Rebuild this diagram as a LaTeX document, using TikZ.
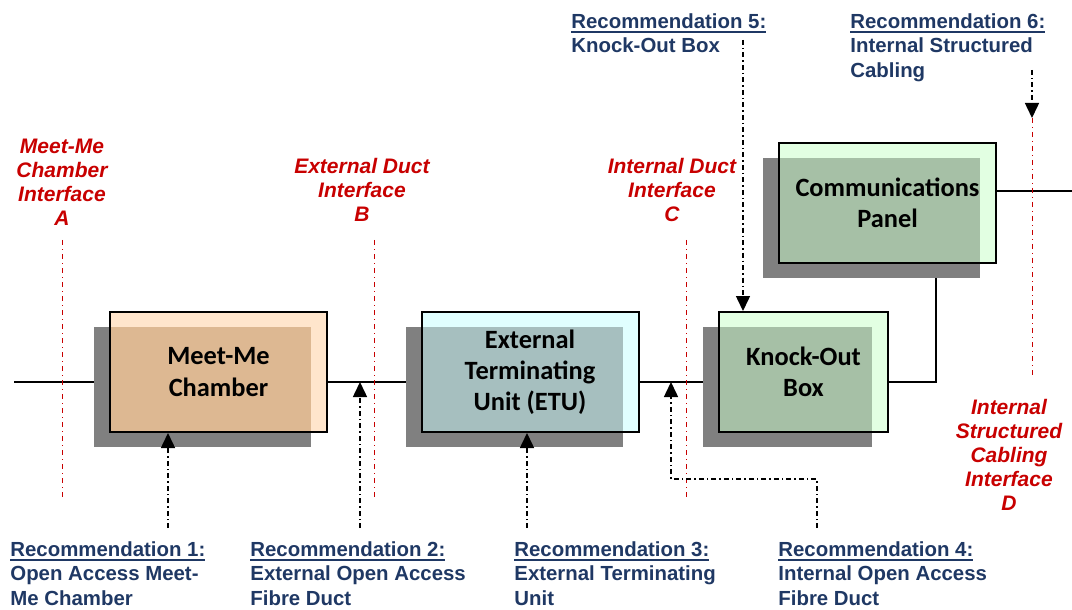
\documentclass[tikz,border=0pt]{standalone}
\usepackage{fontspec}
\setmainfont{Liberation Sans}
\newfontfamily\unitfont{Carlito}
\usetikzlibrary{arrows.meta,shadows,backgrounds}

\definecolor{recblue}{RGB}{31,56,100}
\definecolor{ifred}{RGB}{200,0,0}
\definecolor{shadowgray}{RGB}{128,128,128}
\definecolor{peach}{RGB}{255,229,204}
\definecolor{peachdark}{RGB}{221,184,146}
\definecolor{aqua}{RGB}{224,255,255}
\definecolor{aquadark}{RGB}{166,191,191}
\definecolor{mint}{RGB}{226,255,226}
\definecolor{mintdark}{RGB}{166,192,166}

\newcommand\headul[1]{\setbox0\hbox{#1}\rlap{\rule[-2.2pt]{\wd0}{0.9pt}}\box0}

\tikzset{
  unit/.style 2 args={draw, line width=1pt, fill=#1, minimum width=108.5pt, minimum height=60pt,
    align=center, inner sep=2pt, font=\unitfont\bfseries\fontsize{13.2}{15.6}\selectfont,
    general shadow={fill=shadowgray, shadow xshift=-8pt, shadow yshift=-7.5pt},
    path picture={\fill[#2] (path picture bounding box.south west) rectangle
      ([xshift=-8pt,yshift=-7.5pt]path picture bounding box.north east);}},
  wire/.style={line width=1pt},
  rec/.style={text=recblue, font=\bfseries\fontsize{10.2}{12.3}\selectfont, align=left,
    inner sep=0pt, anchor=north west},
  iface/.style={text=ifred, font=\bfseries\itshape\fontsize{10.5}{12}\selectfont,
    align=center, inner sep=0pt},
  ifline/.style={ifred, line width=0.5pt, dash pattern=on 2.5pt off 2pt on 0.5pt off 2pt},
  recarrow/.style={line width=0.75pt, dash pattern=on 2.5pt off 1.5pt on 0.75pt off 1.5pt,
    -{Triangle[length=7.5pt,width=7pt]}}
}

\begin{document}
\begin{tikzpicture}[x=0.5pt,y=-0.5pt]
  \useasboundingbox (0,0) rectangle (1072,610);

  % the chain of units
  \node[unit={peach}{peachdark}] (mm) at (218.5,372) {Meet-Me\\Chamber};
  \node[unit={aqua}{aquadark}] (etu) at (530,372) {External\\Terminating\\Unit (ETU)};
  \node[unit={mint}{mintdark}, minimum width=84.5pt] (ko) at (803.5,372) {Knock-Out\\Box};
  \node[unit={mint}{mintdark}] (cp) at (887.5,203) {Communications\\Panel};

  \coordinate (in) at (14,382);
  \coordinate (out) at (1072,191);

  \begin{scope}[on background layer]
    \draw[wire] (in) -- (in -| mm.west);
    \draw[wire] (mm.east |- in) -- (in -| etu.west);
    \draw[wire] (etu.east |- in) -- (in -| ko.west);
    \draw[wire] (ko.east |- in) -| ([xshift=24.25pt]cp.south);
    \draw[wire] (out -| cp.east) -- (out);
  \end{scope}

  % interfaces
  \node[iface] (ifA) at (62,182) {Meet-Me\\Chamber\\Interface\\A};
  \node[iface] (ifB) at (362,190) {External Duct\\Interface\\B};
  \node[iface] (ifC) at (672,190) {Internal Duct\\Interface\\C};
  \node[iface] (ifD) at (1009,455) {Internal\\Structured\\Cabling\\Interface\\D};

  \foreach \x in {62,374,686}
    \draw[ifline] (\x,240) -- (\x,497);
  \draw[ifline] (1032,118) -- (1032,377);

  % recommendations
  \node[rec] (rec1) at (10,541) {\headul{Recommendation 1:}\\Open Access Meet-\\Me Chamber};
  \node[rec] (rec2) at (250,541) {\headul{Recommendation 2:}\\External Open Access\\Fibre Duct};
  \node[rec] (rec3) at (514,541) {\headul{Recommendation 3:}\\External Terminating\\Unit};
  \node[rec] (rec4) at (778,541) {\headul{Recommendation 4:}\\Internal Open Access\\Fibre Duct};
  \node[rec] (rec5) at (571,13) {\headul{Recommendation 5:}\\Knock-Out Box};
  \node[rec] (rec6) at (850,13) {\headul{Recommendation 6:}\\Internal Structured\\Cabling};

  \draw[recarrow] (168,528) -- (168,528 |- mm.south);
  \draw[recarrow] (360,528) -- (360,528 |- in);
  \draw[recarrow] (527,528) -- (527,528 |- etu.south);
  \draw[recarrow] (817,528) |- (671,479) -- (671,479 |- in);
  \draw[recarrow] (743,40) -- (743,40 |- ko.north);
  \draw[recarrow] (1032,70) -- (1032,118);
\end{tikzpicture}
\end{document}
